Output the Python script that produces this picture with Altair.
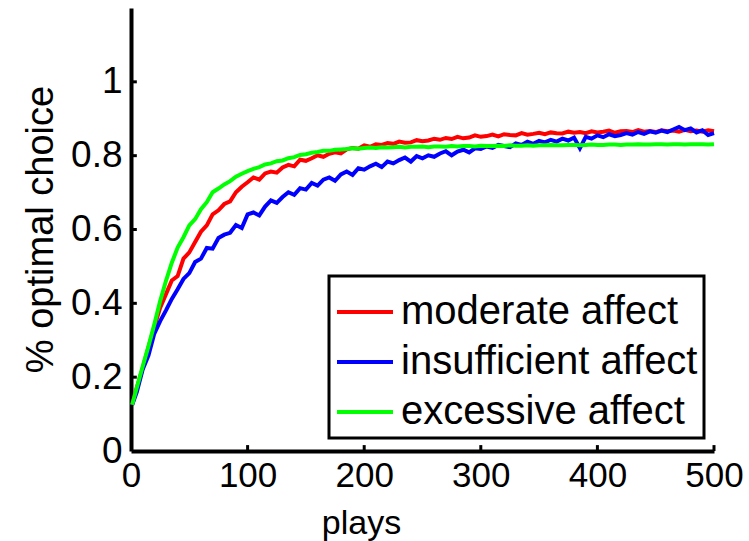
import altair as alt
import pandas as pd

plays = [1] + list(range(5, 501, 5))

moderate = [
    0.125, 0.172, 0.224, 0.281, 0.336, 0.388, 0.425, 0.462, 0.474, 0.521,
    0.538, 0.566, 0.594, 0.611, 0.641, 0.652, 0.669, 0.676, 0.701, 0.716,
    0.728, 0.741, 0.735, 0.752, 0.757, 0.754, 0.768, 0.775, 0.771, 0.789,
    0.786, 0.793, 0.801, 0.797, 0.805, 0.809, 0.806, 0.817, 0.821, 0.819,
    0.828, 0.824, 0.831, 0.829, 0.834, 0.832, 0.838, 0.835, 0.836, 0.842,
    0.839, 0.841, 0.846, 0.843, 0.848, 0.845, 0.851, 0.847, 0.849, 0.855,
    0.851, 0.853, 0.857, 0.852, 0.858, 0.856, 0.855, 0.861, 0.857, 0.859,
    0.862, 0.858, 0.863, 0.861, 0.860, 0.865, 0.862, 0.864, 0.861, 0.866,
    0.863, 0.865, 0.868, 0.862, 0.866, 0.867, 0.864, 0.869, 0.865, 0.867,
    0.864, 0.869, 0.866, 0.868, 0.865, 0.870, 0.866, 0.868, 0.865, 0.869,
    0.866,
]

insufficient = [
    0.125, 0.160, 0.221, 0.259, 0.318, 0.352, 0.381, 0.412, 0.438, 0.466,
    0.482, 0.512, 0.521, 0.550, 0.548, 0.577, 0.586, 0.591, 0.612, 0.604,
    0.641, 0.646, 0.638, 0.662, 0.679, 0.672, 0.688, 0.701, 0.694, 0.712,
    0.708, 0.726, 0.719, 0.735, 0.741, 0.732, 0.749, 0.757, 0.748, 0.766,
    0.762, 0.771, 0.778, 0.769, 0.784, 0.779, 0.788, 0.795, 0.784, 0.799,
    0.793, 0.801, 0.797, 0.806, 0.812, 0.801, 0.811, 0.816, 0.809, 0.820,
    0.818, 0.825, 0.821, 0.829, 0.826, 0.823, 0.833, 0.829, 0.838, 0.832,
    0.840, 0.836, 0.843, 0.838, 0.846, 0.841, 0.849, 0.820, 0.851, 0.846,
    0.855, 0.850, 0.858, 0.853, 0.856, 0.861, 0.857, 0.864, 0.859, 0.866,
    0.862, 0.868, 0.864, 0.871, 0.878, 0.869, 0.874, 0.863, 0.869, 0.856,
    0.861,
]

excessive = [
    0.125, 0.172, 0.229, 0.284, 0.343, 0.406, 0.461, 0.510, 0.551, 0.579,
    0.611, 0.628, 0.655, 0.674, 0.701, 0.711, 0.722, 0.731, 0.743, 0.751,
    0.758, 0.764, 0.769, 0.776, 0.779, 0.785, 0.787, 0.793, 0.796, 0.802,
    0.804, 0.808, 0.810, 0.813, 0.813, 0.816, 0.817, 0.818, 0.820, 0.819,
    0.821, 0.822, 0.821, 0.823, 0.822, 0.823, 0.824, 0.822, 0.824, 0.824,
    0.825, 0.823, 0.825, 0.825, 0.824, 0.826, 0.825, 0.826, 0.826, 0.825,
    0.827, 0.826, 0.826, 0.827, 0.826, 0.828, 0.827, 0.827, 0.828, 0.827,
    0.828, 0.828, 0.829, 0.828, 0.828, 0.829, 0.829, 0.828, 0.829, 0.830,
    0.829, 0.829, 0.830, 0.830, 0.829, 0.830, 0.830, 0.831, 0.830, 0.830,
    0.831, 0.831, 0.830, 0.831, 0.831, 0.830, 0.831, 0.831, 0.831, 0.830,
    0.831,
]

series_names = ["moderate affect", "insufficient affect", "excessive affect"]
series_colors = ["#ff0000", "#0000ff", "#00ff00"]

x_ticks = [0, 100, 200, 300, 400, 500]
y_ticks = [0, 0.2, 0.4, 0.6, 0.8, 1]

rows = []
for name, vals in zip(series_names, [moderate, insufficient, excessive]):
    for p, v in zip(plays, vals):
        rows.append({"plays": p, "value": v, "series": name})
df = pd.DataFrame(rows)

xs = alt.Scale(domain=[0, 500], nice=False)
ys = alt.Scale(domain=[0, 1.2], nice=False)

lines = alt.Chart(df).mark_line(strokeWidth=4).encode(
    x=alt.X("plays:Q", scale=xs,
            axis=alt.Axis(values=x_ticks, title="plays", titleX=230, titleY=82,
                          titleBaseline="alphabetic", titleFontSize=34,
                          labelFontSize=35, labelPadding=7, labelFlush=False,
                          format="d")),
    y=alt.Y("value:Q", scale=ys,
            axis=alt.Axis(values=y_ticks, title="% optimal choice", titleX=-79,
                          titleY=221, titleBaseline="alphabetic", titleFontSize=38,
                          labelFontSize=37, labelPadding=9, labelFlush=False,
                          format="~g")),
    color=alt.Color("series:N",
                    scale=alt.Scale(domain=series_names, range=series_colors),
                    sort=series_names,
                    legend=alt.Legend(title=None, orient="none", legendX=198, legendY=268,
                                      symbolType="M-1,0L1,0", symbolSize=3136,
                                      symbolStrokeWidth=4, labelFontSize=40,
                                      labelLimit=0, labelOffset=6, padding=6,
                                      rowPadding=0, strokeColor="black")),
)

xt = pd.DataFrame({"t": x_ticks[1:]})
yt = pd.DataFrame({"t": y_ticks[1:]})

x_tick_marks = alt.Chart(xt).mark_rule(color="black", strokeWidth=3).encode(
    x=alt.X("t:Q", scale=xs),
    y=alt.datum(0),
    y2=alt.datum(0.016),
)

y_tick_marks = alt.Chart(yt).mark_rule(color="black", strokeWidth=3).encode(
    y=alt.Y("t:Q", scale=ys),
    x=alt.datum(0),
    x2=alt.datum(5),
)

chart = alt.layer(lines, x_tick_marks, y_tick_marks).properties(
    width=583, height=443,
    autosize=alt.AutoSizeParams(type="none"),
    padding={"left": 131, "top": 8, "right": 35, "bottom": 90},
    background="white",
).configure_view(stroke=None).configure_axis(
    domainColor="black", domainWidth=4, tickSize=0, grid=False,
    labelColor="black", titleColor="black",
    labelFont="Liberation Sans", titleFont="Liberation Sans",
    titleFontWeight="normal",
).configure_legend(
    strokeWidth=3, labelFont="Liberation Sans", labelColor="black",
    fillColor="white",
)

chart.save("out.html", embed_options={"renderer": "svg", "actions": False})
